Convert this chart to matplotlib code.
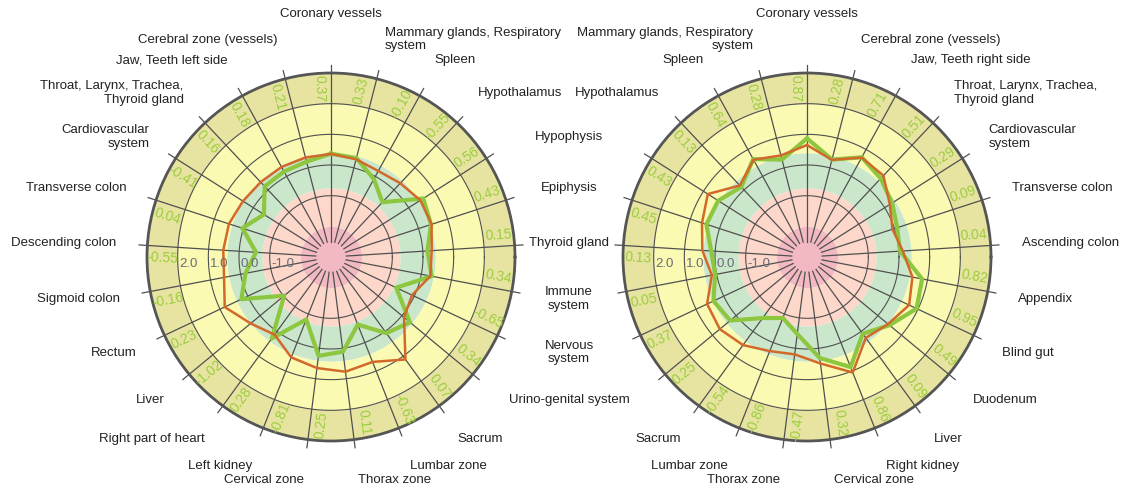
import numpy as np
import matplotlib
matplotlib.use("Agg")
import matplotlib.pyplot as plt

plt.rcParams["font.family"] = ["Liberation Sans", "DejaVu Sans"]

# categories, clockwise from the top spoke
LEFT_LABELS = [
    "Coronary vessels", "Mammary glands, Respiratory\nsystem", "Spleen", "Hypothalamus",
    "Hypophysis", "Epiphysis", "Thyroid gland", "Immune\nsystem", "Nervous\nsystem",
    "Urino-genital system", "Sacrum", "Lumbar zone", "Thorax zone", "Cervical zone",
    "Left kidney", "Right part of heart", "Liver", "Rectum", "Sigmoid colon",
    "Descending colon", "Transverse colon", "Cardiovascular\nsystem",
    "Throat, Larynx, Trachea,\nThyroid gland", "Jaw, Teeth left side", "Cerebral zone (vessels)",
]
LEFT_GREEN = [0.37, 0.33, -0.10, -0.55, 0.56, 0.43, 0.15, 0.34, -0.65, 0.34, 0.07, -0.63, 0.11,
              0.25, -0.81, 0.28, -1.02, 0.23, -0.16, -0.55, 0.04, -0.41, 0.16, 0.18, 0.21]
LEFT_ORANGE = [0.36, 0.29, 0.20, 0.30, 0.45, 0.45, 0.29, 0.30, -0.08, 0.09, 1.13, 0.68, 0.77,
               0.65, 0.52, 0.13, 0.40, 0.83, 0.55, 0.52, 0.50, 0.40, 0.35, 0.35, 0.35]

RIGHT_LABELS = [
    "Coronary vessels", "Cerebral zone (vessels)", "Jaw, Teeth right side",
    "Throat, Larynx, Trachea,\nThyroid gland", "Cardiovascular\nsystem", "Transverse colon",
    "Ascending colon", "Appendix", "Blind gut", "Duodenum", "Liver", "Right kidney",
    "Cervical zone", "Thorax zone", "Lumbar zone", "Sacrum", "Urino-genital system",
    "Nervous\nsystem", "Immune\nsystem", "Thyroid gland", "Epiphysis", "Hypophysis",
    "Hypothalamus", "Spleen", "Mammary glands, Respiratory\nsystem",
]
RIGHT_GREEN = [0.87, 0.28, 0.71, 0.51, 0.29, 0.09, 0.04, 0.82, 0.95, 0.49, 0.09, 0.86, 0.32,
               -0.47, -0.86, -0.54, 0.25, 0.37, 0.05, 0.13, 0.45, 0.43, 0.13, 0.64, 0.28]
RIGHT_ORANGE = [0.65, 0.27, 0.70, 0.64, 0.20, -0.07, 0.13, 0.50, 0.68, 0.43, 0.26, 1.05, 0.50,
                0.20, 0.30, 0.55, 0.69, 0.60, 0.16, 0.42, 0.60, 0.83, 0.20, 0.62, 0.42]

RING_TICKS = [2.0, 1.0, 0.0, -1.0]
# labels written once between the two charts
SHARED = ["Hypophysis", "Epiphysis", "Thyroid gland", "Immune\nsystem", "Nervous\nsystem",
          "Urino-genital system"]

RMIN, RMAX = -3.0, 3.0
ZONES = [(-3.0, -2.0, "#f2b9c3"), (-2.0, -0.75, "#fdd7c9"), (-0.75, 0.4, "#cae7cb"),
         (0.4, 2.0, "#fafab2"), (2.0, 3.0, "#e7e4a1")]
GRID = "#505050"
GREEN, ORANGE, VALUE_C = "#8dc63f", "#d2692a", "#9ccd3e"


def placement(deg, top_pad=1.32, rx=1.17, ry=1.22):
    c, s = np.cos(np.radians(deg)), np.sin(np.radians(deg))
    ha = "left" if c > 0.05 else "right" if c < -0.05 else "center"
    fy = ry if abs(c) > 0.05 else top_pad
    return c * rx, s * fy, ha


def draw_chart(fig, rect, labels, green, orange, skip):
    ax = fig.add_axes(rect, projection="polar")
    ax.set_ylim(RMIN, RMAX)
    ax.set_xticks([]); ax.set_yticks([]); ax.grid(False)
    ax.spines["polar"].set(color="#555555", linewidth=2)
    t = np.linspace(0, 2 * np.pi, 400)
    for lo, hi, col in ZONES:
        ax.fill_between(t, lo, hi, color=col, linewidth=0, zorder=0)
    for v in (-1, 0, 1, 2):
        ax.plot(t, np.full_like(t, v), color=GRID, lw=0.8, zorder=1)
    degs = 90 - 360 / len(labels) * np.arange(len(labels))
    th = np.radians(degs)
    for a in th:
        ax.plot([a, a], [-2.5, 3.27], color=GRID, lw=0.9, zorder=1, clip_on=False)
    closed = np.append(th, th[0])
    ax.plot(closed, np.append(green, green[0]), color=GREEN, lw=3, zorder=3)
    ax.plot(closed, np.append(orange, orange[0]), color=ORANGE, lw=1.8, zorder=4)
    for d, v in zip(degs, green):
        rot = (d + 90) % 180 - 90
        ax.text(np.radians(d + 4), 2.5, f"{v:.2f}", rotation=rot, rotation_mode="anchor",
                ha="center", va="center", color=VALUE_C, fontsize=10, zorder=5)
    for v in RING_TICKS:
        ax.annotate(f"{v:.1f}", xy=(np.pi, v), xytext=(1, -5), textcoords="offset points",
                    ha="left", va="center", color="#6a6a78", fontsize=9.5, zorder=5)
    for d, lab in zip(degs, labels):
        if lab in skip:
            continue
        dx, dy, ha = placement(d)
        ax.text(0.5 + 0.5 * dx, 0.5 + 0.5 * dy, lab, transform=ax.transAxes, ha=ha, va="center",
                multialignment=ha, fontsize=9.5, color="#222222", clip_on=False)
    return ax, degs


fig = plt.figure(figsize=(11.25, 4.92), dpi=100)
W, H, R = 1125, 492, 184
left_c, right_c, cy = 331, 807, 257
rect_l = [(left_c - R) / W, (H - cy - R) / H, 2 * R / W, 2 * R / H]
rect_r = [(right_c - R) / W, (H - cy - R) / H, 2 * R / W, 2 * R / H]
axl, degs_l = draw_chart(fig, rect_l, LEFT_LABELS, LEFT_GREEN, LEFT_ORANGE, SHARED)
axr, degs_r = draw_chart(fig, rect_r, RIGHT_LABELS, RIGHT_GREEN, RIGHT_ORANGE, SHARED)

mid_x = (left_c + right_c) / 2 / W
for d, lab in zip(degs_l, LEFT_LABELS):
    if lab in SHARED:
        _, dy, _ = placement(d)
        fig.text(mid_x, (H - cy + dy * R) / H, lab, ha="center", va="center",
                 multialignment="center", fontsize=9.5, color="#222222")

fig.savefig("out.png", dpi=100, facecolor="white")
